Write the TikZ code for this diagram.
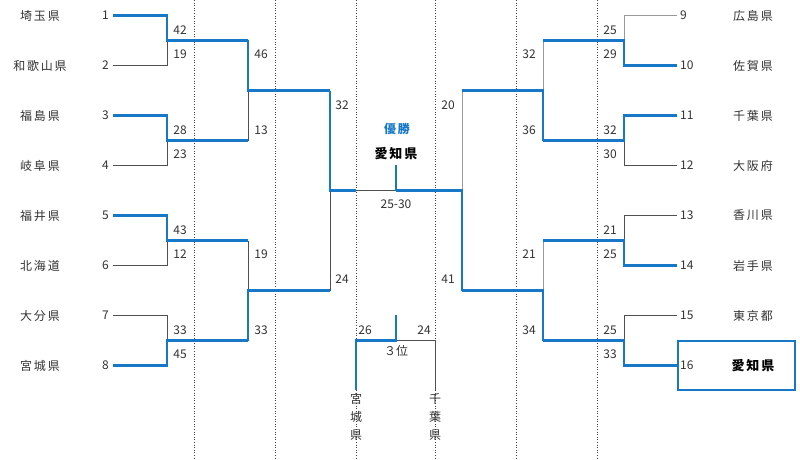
\documentclass[tikz,border=0pt]{standalone}
\usepackage{fontspec}
\setmainfont{Noto Sans CJK JP}
\newfontfamily\jp[LetterSpace=15]{Noto Sans CJK JP}
\definecolor{bblue}{HTML}{1878C8}
\definecolor{lgrey}{HTML}{505050}
\definecolor{rgrey}{HTML}{999999}
\definecolor{txt}{HTML}{333333}
\begin{document}
\begin{tikzpicture}[x=1pt,y=-1pt,
  win/.style={draw=bblue, line width=2.5pt, line join=miter},
  lose/.style={draw=lgrey, line width=1pt},
  loser/.style={draw=rgrey, line width=1pt},
  sep/.style={draw=black!75, dotted, line width=0.6pt},
  team/.style={font=\jp\fontsize{12}{14}\selectfont, text=txt, inner sep=0pt},
  champ/.style={font=\jp\bfseries\fontsize{13}{15}\selectfont, text=black, inner sep=0pt},
  num/.style={font=\fontsize{12}{14}\selectfont, text=txt, inner sep=0pt},
  vtext/.style={font=\fontsize{12}{18}\selectfont, text=txt, inner sep=0pt, align=center, anchor=north}]
\useasboundingbox (0,0) rectangle (800,460);
\fill[white] (0,0) rectangle (800,460);

% dotted separators
\foreach \x in {194,275.5,356,435,516,597} \draw[sep] (\x,0) -- (\x,460);

% team coordinates
\foreach \i in {1,...,8} {
  \pgfmathsetmacro\y{15.5+50*(\i-1)}
  \coordinate (LS\i) at (113,\y);
  \coordinate (LE\i) at (167,\y);
  \coordinate (RS\i) at (677,\y);
  \coordinate (RE\i) at (624,\y);
}
\foreach \k in {1,...,4} {
  \pgfmathsetmacro\y{40.5+100*(\k-1)}
  \coordinate (LM1\k) at (167,\y);
  \coordinate (LQ1\k) at (248,\y);
  \coordinate (RM1\k) at (624,\y);
  \coordinate (RQ1\k) at (543,\y);
}
\foreach \k in {1,2} {
  \pgfmathsetmacro\y{90.5+200*(\k-1)}
  \coordinate (LM2\k) at (248,\y);
  \coordinate (LQ2\k) at (330,\y);
  \coordinate (RM2\k) at (543,\y);
  \coordinate (RQ2\k) at (462,\y);
}
\coordinate (LM3) at (330,190.5);
\coordinate (RM3) at (462,190.5);
\coordinate (FL) at (356,190.5);
\coordinate (FC) at (396,190.5);
\coordinate (FT) at (396,165);
\coordinate (TL) at (356,340.5);
\coordinate (TC) at (396,340.5);
\coordinate (TR) at (435,340.5);
\coordinate (TT) at (396,315);
\coordinate (TLB) at (356,390);
\coordinate (TRB) at (435,390);

% team names and seeds (left)
\foreach \i/\n in {1/埼玉県,2/和歌山県,3/福島県,4/岐阜県,5/福井県,6/北海道,7/大分県,8/宮城県} {
  \pgfmathsetmacro\y{15.5+50*(\i-1)}
  \node[team] (n\i) at (40,\y) {\n};
  \node[num, anchor=east] (s\i) at (109,\y) {\i};
}
% right
\foreach \i/\n in {1/広島県,2/佐賀県,3/千葉県,4/大阪府,5/香川県,6/岩手県,7/東京都} {
  \pgfmathsetmacro\y{15.5+50*(\i-1)}
  \pgfmathtruncatemacro\s{\i+8}
  \node[team] (m\i) at (753,\y) {\n};
  \node[num, anchor=west] (t\i) at (680,\y) {\s};
}
\node[num, anchor=west] (t8) at (680,365.5) {16};
\node[champ] (m8) at (753,365.5) {愛知県};
\draw[draw=bblue, line width=2pt] (678,341) rectangle (795,390);

% losers (grey)
\draw[lose] (LS2) -- (LE2) -- (LM11);
\draw[lose] (LS4) -- (LE4) -- (LM12);
\draw[lose] (LS6) -- (LE6) -- (LM13);
\draw[lose] (LS7) -- (LE7) -- (LM14);
\draw[lose] (LQ12) -- (LM21);
\draw[lose] (LQ13) -- (LM22);
\draw[lose] (LQ22) -- (LM3);
\draw[lose] (FL) -- (FC);
\draw[lose] (TC) -- (TR) -- (TRB);
\draw[loser] (RS1) -- (RE1) -- (RM11);
\draw[lose] (RS4) -- (RE4) -- (RM12);
\draw[lose] (RS5) -- (RE5) -- (RM13);
\draw[lose] (RS7) -- (RE7) -- (RM14);
\draw[loser] (RQ11) -- (RM21);
\draw[loser] (RQ13) -- (RM22);
\draw[loser] (RQ21) -- (RM3);

% winners (blue)
\draw[win] (LS1) -- (LE1) -- (LM11) -- (LQ11);
\draw[win] (LS3) -- (LE3) -- (LM12) -- (LQ12);
\draw[win] (LS5) -- (LE5) -- (LM13) -- (LQ13);
\draw[win] (LS8) -- (LE8) -- (LM14) -- (LQ14);
\draw[win] (LQ11) -- (LM21) -- (LQ21);
\draw[win] (LQ14) -- (LM22) -- (LQ22);
\draw[win] (LQ21) -- (LM3) -- (FL);
\draw[win] (RS2) -- (RE2) -- (RM11) -- (RQ11);
\draw[win] (RS3) -- (RE3) -- (RM12) -- (RQ12);
\draw[win] (RS6) -- (RE6) -- (RM13) -- (RQ13);
\draw[win] (RS8) -- (RE8) -- (RM14) -- (RQ14);
\draw[win] (RQ12) -- (RM21) -- (RQ21);
\draw[win] (RQ14) -- (RM22) -- (RQ22);
\draw[win] (RQ22) -- (RM3) -- (FC);
\draw[win] (FT) -- (FC);
\draw[win] (TLB) -- (TL) -- (TC) -- (TT);

% scores left
\foreach \y/\v in {30/42,54/19,130/28,154/23,230/43,254/12,330/33,354/45}
  \node[num] at (180,\y) {\v};
\foreach \y/\v in {54/46,130/13,254/19,330/33}
  \node[num] at (261,\y) {\v};
\foreach \y/\v in {105/32,279/24}
  \node[num] at (342,\y) {\v};
% scores right
\foreach \y/\v in {30/25,54/29,130/32,154/30,230/21,254/25,330/25,354/33}
  \node[num] at (610,\y) {\v};
\foreach \y/\v in {54/32,130/36,254/21,330/34}
  \node[num] at (529,\y) {\v};
\foreach \y/\v in {105/20,279/41}
  \node[num] at (448,\y) {\v};

% final
\node[font=\jp\bfseries\fontsize{12}{14}\selectfont, text=bblue, inner sep=0pt] (yusho) at (397,129) {優勝};
\node[champ] (fchamp) at (396,154) {愛知県};
\node[num] (fscore) at (396,204) {25-30};
% third place
\node[num] (t26) at (365,330) {26};
\node[num] (t24) at (424,330) {24};
\node[num] (third) at (396,351) {３位};
\node[vtext] (miyagi) at (356,393) {宮\\城\\県};
\node[vtext] (chiba) at (435,393) {千\\葉\\県};
\end{tikzpicture}
\end{document}
